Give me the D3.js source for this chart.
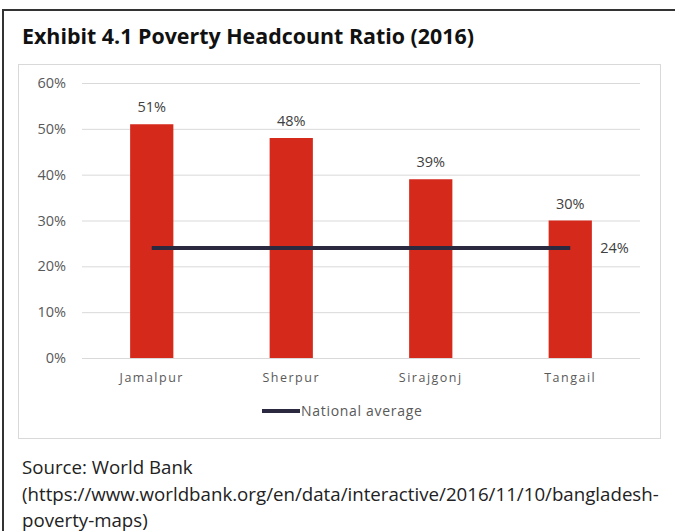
<!DOCTYPE html>
<html><head><meta charset="utf-8">
<script src="https://cdn.jsdelivr.net/npm/d3@7"></script>
<style>body{margin:0;background:#fff}svg{display:block}</style>
</head><body>
<script>
const categories = ["Jamalpur","Sherpur","Sirajgonj","Tangail"];
const values = [51,48,39,30];
const nationalAverage = [24,24,24,24];
const yTicks = [0,10,20,30,40,50,60];
const title = "Exhibit 4.1 Poverty Headcount Ratio (2016)";
const sourceLines = ["Source: World Bank","(https://www.worldbank.org/en/data/interactive/2016/11/10/bangladesh-","poverty-maps)"];

const W=675,H=531;
const svg=d3.select("body").append("svg").attr("width",W).attr("height",H);
svg.append("path").attr("d","M3,531 V10 H675").attr("fill","none").attr("stroke","#333").attr("stroke-width",2);
svg.append("text").attr("x",22).attr("y",44).text(title)
  .attr("font-family","Open Sans").attr("font-weight",700).attr("font-size",21)
  .attr("textLength",452).attr("lengthAdjust","spacingAndGlyphs").attr("fill","#111");
svg.append("rect").attr("x",18.5).attr("y",64.5).attr("width",642).attr("height",374)
  .attr("fill","#fff").attr("stroke","#d9d9d9");

const x=d3.scaleBand().domain(categories).range([82,640]).paddingInner(0.69).paddingOuter(0.345);
const y=d3.scaleLinear().domain([0,60]).range([358,83]);
const g=svg.append("g");
const grid=g.append("g").attr("transform","translate(82,0)")
  .call(d3.axisLeft(y).tickValues(yTicks).tickSize(-558).tickFormat(d=>d+"%"));
grid.select(".domain").remove();
grid.selectAll(".tick line").attr("stroke","#d9d9d9");
grid.selectAll(".tick text").attr("x",-16).attr("font-family","Open Sans").attr("font-size",14.5).attr("fill","#595959");

g.selectAll("rect.bar").data(values).join("rect").attr("class","bar")
  .attr("x",(d,i)=>x(categories[i])).attr("width",x.bandwidth())
  .attr("y",d=>y(d)).attr("height",d=>y(0)-y(d)).attr("fill","#d5291c");
g.selectAll("text.val").data(values).join("text")
  .attr("x",(d,i)=>x(categories[i])+x.bandwidth()/2).attr("y",d=>y(d)-12)
  .attr("text-anchor","middle").attr("font-family","Open Sans").attr("font-size",14.5).attr("fill","#404040")
  .text(d=>d+"%");
const xa=g.append("g").attr("transform","translate(0,358)").call(d3.axisBottom(x).tickSize(0));
xa.select(".domain").remove();
xa.selectAll(".tick text").attr("dy","1.7em").attr("font-family","Open Sans").attr("font-size",12.5)
  .attr("letter-spacing","1.5px").attr("fill","#595959");

const line=d3.line().x((d,i)=>x(categories[i])+x.bandwidth()/2).y(d=>y(d));
g.append("path").datum(nationalAverage).attr("d",line).attr("fill","none").attr("stroke","#2a2940").attr("stroke-width",4);
const last=nationalAverage.length-1;
g.append("text").attr("x",x(categories[last])+x.bandwidth()/2+30).attr("y",y(nationalAverage[last])).attr("dy","0.35em")
  .attr("font-family","Open Sans").attr("font-size",14.5).attr("fill","#404040").text(nationalAverage[last]+"%");

svg.append("line").attr("x1",262).attr("x2",300).attr("y1",411).attr("y2",411).attr("stroke","#2a2940").attr("stroke-width",4);
svg.append("text").attr("x",301).attr("y",411).attr("dy","0.35em").attr("font-family","Open Sans").attr("font-size",14)
  .attr("letter-spacing","0.7px").attr("fill","#595959").text("National average");

svg.selectAll("text.src").data(sourceLines).join("text").attr("class","src")
  .attr("x",22).attr("y",(d,i)=>474+i*26.5).attr("font-family","Open Sans").attr("font-size",18.7).attr("fill","#222").text(d=>d);
</script>
</body></html>
